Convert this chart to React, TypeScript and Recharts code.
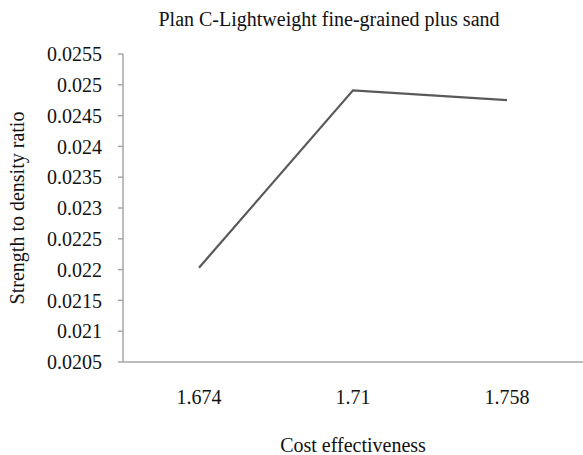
import { LineChart, Line, XAxis, YAxis } from "recharts";

const costLabels = ["1.674", "1.71", "1.758"];
const strengthRatio = [0.02203, 0.02491, 0.02475];
const yTicks = [0.0205, 0.021, 0.0215, 0.022, 0.0225, 0.023, 0.0235, 0.024, 0.0245, 0.025, 0.0255];

const FONT = '"Liberation Serif", "Times New Roman", serif';
const AXIS_GREY = "#a6a6a6";

const data = costLabels.map((c, i) => ({ cost: c, ratio: strengthRatio[i] }));

function YLabel({ viewBox }: any) {
  const cy = viewBox.y + viewBox.height / 2;
  const x = 24;
  return (
    <text
      x={x}
      y={cy}
      transform={`rotate(-90 ${x} ${cy})`}
      textAnchor="middle"
      fontFamily={FONT}
      fontSize={20}
      fill="#111"
    >
      Strength to density ratio
    </text>
  );
}

export default function App() {
  return (
    <div style={{ position: "absolute", left: 0, top: 0, width: 583, height: 455, background: "#fff" }}>
      <div
        style={{
          position: "absolute",
          top: 7,
          left: 0,
          width: 583,
          paddingLeft: 75,
          boxSizing: "border-box",
          textAlign: "center",
          fontFamily: FONT,
          fontSize: 20,
          lineHeight: "24px",
          color: "#111",
        }}
      >
        Plan C-Lightweight fine-grained plus sand
      </div>
      <LineChart width={583} height={455} data={data} margin={{ top: 54, right: 0, bottom: 0, left: 0 }}>
        <XAxis
          dataKey="cost"
          type="category"
          height={93}
          padding={{ left: 76, right: 76 }}
          axisLine={{ stroke: AXIS_GREY, strokeWidth: 1.5 }}
          tickLine={false}
          tickSize={0}
          tickMargin={28}
          tick={{ fontFamily: FONT, fontSize: 20, fill: "#111" }}
          label={{
            value: "Cost effectiveness",
            position: "insideBottom",
            offset: 3,
            fontFamily: FONT,
            fontSize: 20,
            fill: "#111",
          }}
        />
        <YAxis
          width={123}
          domain={[0.0205, 0.0255]}
          ticks={yTicks}
          interval={0}
          tickFormatter={(v: number) => String(v)}
          axisLine={{ stroke: AXIS_GREY, strokeWidth: 1.5 }}
          tickLine={{ stroke: AXIS_GREY, strokeWidth: 1.5 }}
          tickSize={5}
          tickMargin={16}
          tick={{ fontFamily: FONT, fontSize: 20, fill: "#111" }}
          label={<YLabel />}
        />
        <Line
          type="linear"
          dataKey="ratio"
          stroke="#595959"
          strokeWidth={2.2}
          dot={false}
          isAnimationActive={false}
        />
      </LineChart>
    </div>
  );
}
